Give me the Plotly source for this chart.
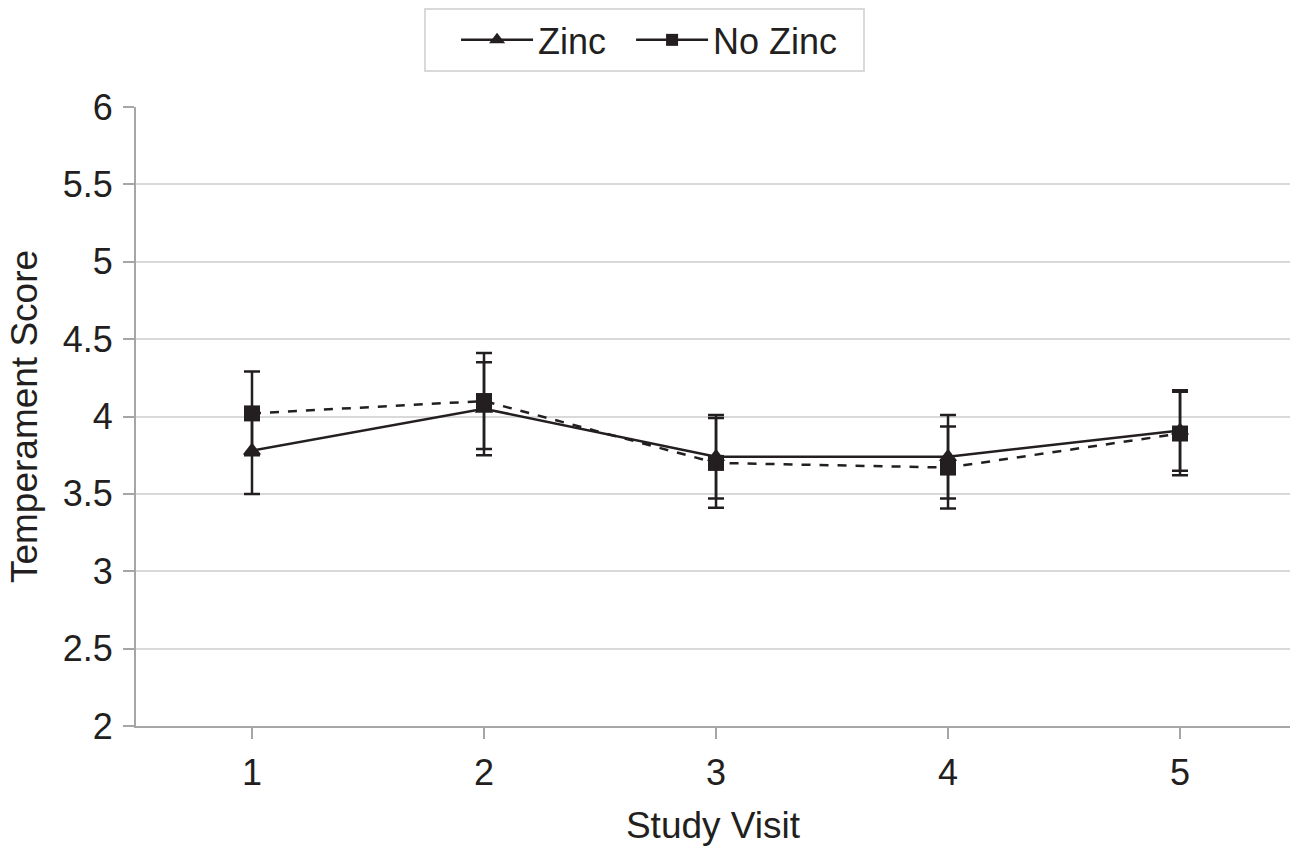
import plotly.graph_objects as go

visits = [1, 2, 3, 4, 5]
zinc_mean = [3.78, 4.05, 3.74, 3.74, 3.91]
zinc_err = [0.28, 0.30, 0.27, 0.27, 0.26]
nozinc_mean = [4.02, 4.10, 3.70, 3.67, 3.89]
nozinc_err = [0.27, 0.31, 0.29, 0.265, 0.27]
y_ticks = [2, 2.5, 3, 3.5, 4, 4.5, 5, 5.5, 6]
y_ticktext = ["2", "2.5", "3", "3.5", "4", "4.5", "5", "5.5", "6"]

INK = "#231f20"
AXIS = "#a6a6a6"
GRID = "#d9d9d9"
FONT = "Liberation Sans, Arial, sans-serif"
FS = 36

fig = go.Figure()

fig.add_trace(go.Scatter(
    x=visits, y=nozinc_mean, mode="lines+markers", name="No Zinc", showlegend=False,
    line=dict(color=INK, width=2.5, dash="dash"),
    marker=dict(symbol="square", size=16, color=INK),
    error_y=dict(type="data", array=nozinc_err, color=INK, thickness=2.5, width=8),
))
fig.add_trace(go.Scatter(
    x=visits, y=zinc_mean, mode="lines+markers", name="Zinc", showlegend=False,
    line=dict(color=INK, width=2.5),
    marker=dict(symbol="triangle-up", size=16, color=INK),
    error_y=dict(type="data", array=zinc_err, color=INK, thickness=2.5, width=8),
))
# legend entries (legend shows solid lines for both)
fig.add_trace(go.Scatter(
    x=[None], y=[None], mode="lines+markers", name="Zinc\u00a0\u00a0",
    line=dict(color=INK, width=2.5),
    marker=dict(symbol="triangle-up", size=14, color=INK),
))
fig.add_trace(go.Scatter(
    x=[None], y=[None], mode="lines+markers", name="No Zinc\u00a0\u00a0",
    line=dict(color=INK, width=2.5),
    marker=dict(symbol="square", size=12, color=INK),
))

fig.update_layout(
    width=1290, height=846,
    margin=dict(l=136, r=0, t=107, b=120, autoexpand=False),
    paper_bgcolor="white", plot_bgcolor="white",
    font=dict(family=FONT, size=FS, color=INK),
    showlegend=True,
    legend=dict(
        orientation="h", x=0.2496, xanchor="left", y=1.16, yanchor="top",
        bordercolor=GRID, borderwidth=2, bgcolor="white",
        font=dict(family=FONT, size=FS, color=INK),
        title=dict(text="\u00a0\u00a0", side="left", font=dict(size=FS)),
        itemwidth=72, traceorder="normal",
    ),
    xaxis=dict(
        range=[0.5, 5.474], tickmode="array", tickvals=visits,
        ticktext=[str(v) for v in visits],
        showgrid=False, zeroline=False, automargin=False,
        showline=True, linecolor=AXIS, linewidth=2,
        ticks="outside", ticklen=11, tickwidth=2, tickcolor=AXIS,
        tickfont=dict(size=FS), ticklabelstandoff=3,
        title=dict(text="Study Visit", font=dict(size=37), standoff=20),
    ),
    yaxis=dict(
        range=[2, 6], tickmode="array", tickvals=y_ticks, ticktext=y_ticktext,
        showgrid=True, gridcolor=GRID, gridwidth=2, zeroline=False, automargin=False,
        showline=True, linecolor=AXIS, linewidth=2,
        ticks="outside", ticklen=11, tickwidth=2, tickcolor=AXIS,
        tickfont=dict(size=FS), ticklabelstandoff=3,
        title=dict(text="Temperament Score", font=dict(size=37), standoff=14),
    ),
)

fig.write_html(
    "out.html",
    config={"displayModeBar": False},
    post_script="document.body.style.margin='0';document.body.style.overflow='hidden';",
)
